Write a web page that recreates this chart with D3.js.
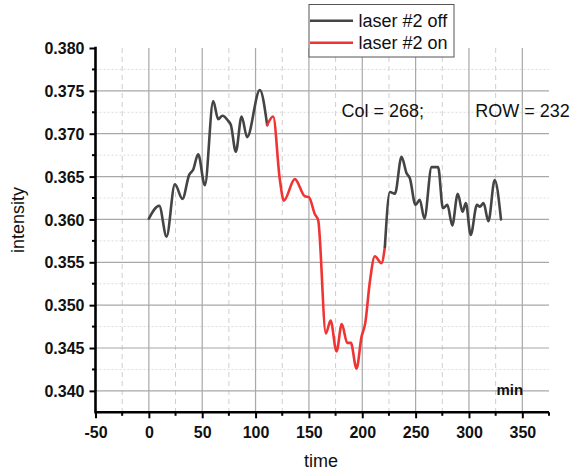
<!DOCTYPE html>
<html>
<head>
<meta charset="utf-8">
<script src="https://cdn.jsdelivr.net/npm/d3@7"></script>
<style>
  html, body { margin: 0; padding: 0; background: #fff; }
  svg { display: block; }
  text { font-family: "Liberation Sans", Arial, Helvetica, sans-serif; fill: #111; }
</style>
</head>
<body>
<svg id="chart" width="579" height="471"></svg>
<script>
// Intensity trace, split by laser state (boundary points shared)
const offBeforeTime = [0, 9.7, 16.6, 24.4, 31.5, 37.8, 41.5, 46.2, 52.5, 60.3, 65, 69, 74.3, 76.9, 81.5, 86.9, 92.1, 104, 110.9];
const offBeforeIntensity = [0.3601, 0.3616, 0.3580, 0.3641, 0.3624, 0.3652, 0.3658, 0.3676, 0.3640, 0.3738, 0.3717, 0.3721, 0.3715, 0.3710, 0.3679, 0.3720, 0.3696, 0.3751, 0.3710];

const onTime = [110.9, 116.5, 122.8, 126.5, 136.8, 146.2, 150, 155.6, 158.7, 165.9, 170.3, 175.9, 180.8, 185.9, 189.3, 194.6, 199.3, 202.8, 207.1, 211.8, 218, 221.2];
const onIntensity = [0.3710, 0.3720, 0.3646, 0.3622, 0.3647, 0.3627, 0.3626, 0.3606, 0.3599, 0.3467, 0.3482, 0.3446, 0.3478, 0.3456, 0.3456, 0.3426, 0.3463, 0.3479, 0.3527, 0.3557, 0.3549, 0.3568];

const offAfterTime = [221.2, 225.9, 230.6, 236.8, 241.5, 244.6, 249.9, 253.9, 258.2, 265, 271.1, 275.6, 279.8, 284.3, 289.5, 294, 297.1, 301.6, 307.5, 310.2, 313.7, 318.2, 324.1, 330];
const offAfterIntensity = [0.3568, 0.3632, 0.3630, 0.3673, 0.3654, 0.3648, 0.3617, 0.3623, 0.3601, 0.3661, 0.3661, 0.3613, 0.3617, 0.3593, 0.3630, 0.3609, 0.3619, 0.3582, 0.3617, 0.3615, 0.3619, 0.3598, 0.3646, 0.3600];

const xMajorTicks = [-50, 0, 50, 100, 150, 200, 250, 300, 350];
const xMinorTicks = [-25, 25, 75, 125, 175, 225, 275, 325, 375];
const yMajorTicks = [0.340, 0.345, 0.350, 0.355, 0.360, 0.365, 0.370, 0.375, 0.380];
const yMinorTicks = [0.3425, 0.3475, 0.3525, 0.3575, 0.3625, 0.3675, 0.3725, 0.3775];

const legendLabels = ["laser #2 off", "laser #2 on"];
const annotationLeft = "Col = 268;";
const annotationRight = "ROW = 232";

const colorOff = "#444444";
const colorOn = "#f03434";

const svg = d3.select("#chart");
const plot = { left: 95.5, right: 549, top: 48, bottom: 412.3 };

const x = d3.scaleLinear().domain([-50, 375]).range([plot.left, plot.right]);
const y = d3.scaleLinear().domain([0.3375, 0.380]).range([plot.bottom, plot.top]);

// grid
const grid = svg.append("g");
grid.selectAll(".vminor").data(xMinorTicks.filter(d => d < 375)).join("line")
  .attr("x1", d => x(d)).attr("x2", d => x(d))
  .attr("y1", plot.top).attr("y2", plot.bottom)
  .attr("stroke", "#cfcfcf").attr("stroke-width", 1).attr("stroke-dasharray", "5,4");
grid.selectAll(".hminor").data(yMinorTicks).join("line")
  .attr("x1", plot.left).attr("x2", plot.right)
  .attr("y1", d => y(d)).attr("y2", d => y(d))
  .attr("stroke", "#dcdcdc").attr("stroke-width", 1).attr("stroke-dasharray", "2,2");
grid.selectAll(".vmajor").data(xMajorTicks.filter(d => d > -50)).join("line")
  .attr("x1", d => x(d)).attr("x2", d => x(d))
  .attr("y1", plot.top).attr("y2", plot.bottom)
  .attr("stroke", "#a8a8a8").attr("stroke-width", 1.2);
grid.selectAll(".hmajor").data(yMajorTicks.filter(d => d < 0.380)).join("line")
  .attr("x1", plot.left).attr("x2", plot.right)
  .attr("y1", d => y(d)).attr("y2", d => y(d))
  .attr("stroke", "#a8a8a8").attr("stroke-width", 1.2);

// data lines
const line = d3.line()
  .x(d => x(d[0])).y(d => y(d[1]))
  .curve(d3.curveMonotoneX);

const segments = [
  { t: offBeforeTime, v: offBeforeIntensity, c: colorOff },
  { t: onTime, v: onIntensity, c: colorOn },
  { t: offAfterTime, v: offAfterIntensity, c: colorOff }
];
segments.forEach(s => {
  svg.append("path")
    .datum(s.t.map((t, i) => [t, s.v[i]]))
    .attr("d", line)
    .attr("fill", "none")
    .attr("stroke", s.c)
    .attr("stroke-width", 2.6)
    .attr("stroke-linejoin", "round")
    .attr("stroke-linecap", "round");
});

// axes
const xAxis = d3.axisBottom(x).tickValues(xMajorTicks).tickSize(6).tickPadding(8)
  .tickFormat(d => d < 0 ? "-" + Math.abs(d) : String(d));
const gx = svg.append("g").attr("transform", `translate(0,${plot.bottom})`).call(xAxis);
const yAxis = d3.axisLeft(y).tickValues(yMajorTicks).tickSize(6).tickPadding(5)
  .tickFormat(d3.format(".3f"));
const gy = svg.append("g").attr("transform", `translate(${plot.left},0)`).call(yAxis);

[gx, gy].forEach(g => {
  g.select(".domain").remove();
  g.selectAll(".tick line").attr("stroke", "#000").attr("stroke-width", 2);
  g.selectAll(".tick text")
    .attr("fill", "#111")
    .style("font-family", "'Liberation Sans', Arial, sans-serif")
    .style("font-size", "16px")
    .style("font-weight", "bold");
});
gx.selectAll(".tick text").attr("dy", "0.71em");
gy.selectAll(".tick text").attr("dy", "0.35em");

// minor ticks
svg.append("g").selectAll("line").data(xMinorTicks).join("line")
  .attr("x1", d => x(d)).attr("x2", d => x(d))
  .attr("y1", plot.bottom).attr("y2", plot.bottom + 3.5)
  .attr("stroke", "#000").attr("stroke-width", 2);
svg.append("g").selectAll("line").data(yMinorTicks).join("line")
  .attr("x1", plot.left - 3.5).attr("x2", plot.left)
  .attr("y1", d => y(d)).attr("y2", d => y(d))
  .attr("stroke", "#000").attr("stroke-width", 2);

// axis lines
svg.append("line")
  .attr("x1", plot.left).attr("x2", plot.right)
  .attr("y1", plot.bottom).attr("y2", plot.bottom)
  .attr("stroke", "#000").attr("stroke-width", 2.6);
svg.append("line")
  .attr("x1", plot.left).attr("x2", plot.left)
  .attr("y1", plot.top - 1.3).attr("y2", plot.bottom + 1.3)
  .attr("stroke", "#000").attr("stroke-width", 2.6);

// axis titles
svg.append("text")
  .attr("x", 321).attr("y", 466.5)
  .attr("text-anchor", "middle")
  .style("font-size", "18px")
  .text("time");
svg.append("text")
  .attr("transform", "translate(24,220) rotate(-90)")
  .attr("text-anchor", "middle")
  .style("font-size", "18px")
  .text("intensity");

// unit label
svg.append("text")
  .attr("x", 496.5).attr("y", 395)
  .style("font-size", "15px")
  .style("font-weight", "bold")
  .text("min");

// annotations
svg.append("text").attr("x", 341.5).attr("y", 116.7)
  .style("font-size", "18px").text(annotationLeft);
svg.append("text").attr("x", 475.3).attr("y", 116.7)
  .style("font-size", "18px").text(annotationRight);

// legend
const legend = svg.append("g");
legend.append("rect")
  .attr("x", 309).attr("y", 4.5).attr("width", 145).attr("height", 52.5)
  .attr("fill", "#fff").attr("stroke", "#555").attr("stroke-width", 1);
const legendColors = [colorOff, colorOn];
const legendRows = [20.7, 42.7];
legendLabels.forEach((lab, i) => {
  legend.append("line")
    .attr("x1", 310).attr("x2", 353)
    .attr("y1", legendRows[i]).attr("y2", legendRows[i])
    .attr("stroke", legendColors[i]).attr("stroke-width", 2.6);
  legend.append("text")
    .attr("x", 358.5).attr("y", legendRows[i] + 6.3)
    .style("font-size", "18px")
    .text(lab);
});
</script>
</body>
</html>
